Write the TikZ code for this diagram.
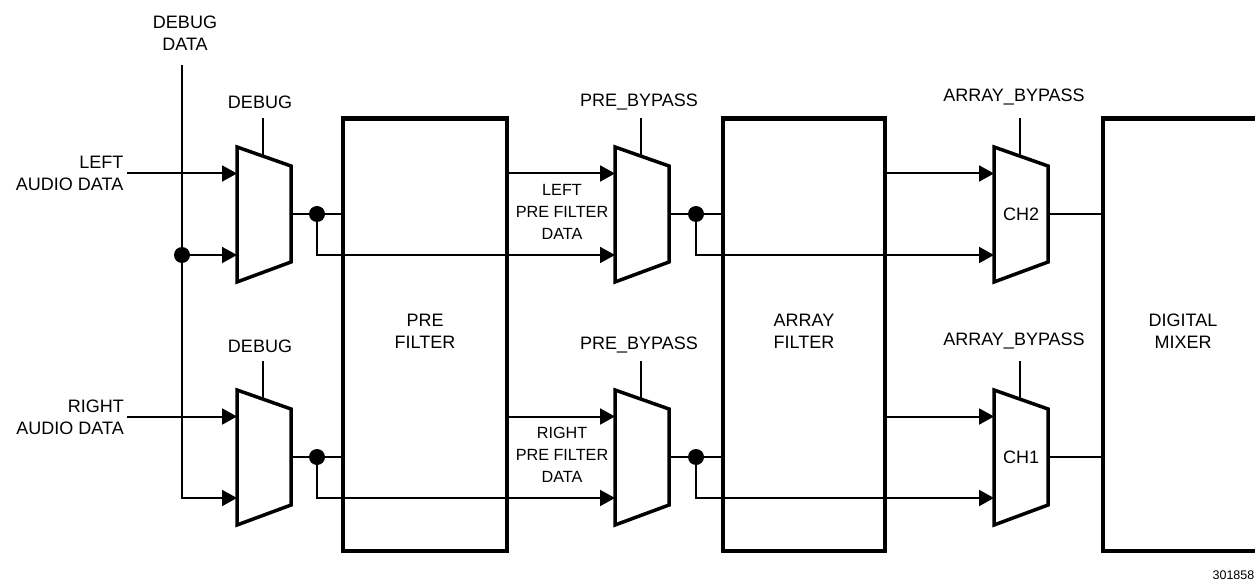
\documentclass[tikz,border=0pt]{standalone}
\usepackage{fontspec}
\setmainfont{Liberation Sans}
\usetikzlibrary{arrows.meta,calc}
\newcommand{\mymux}[4]{%
  \begin{scope}[shift={(#2,#3)}]
    \coordinate (#1-tl) at (0,0);
    \coordinate (#1-tr) at (54,19);
    \coordinate (#1-br) at (54,115);
    \coordinate (#1-bl) at (0,135);
    \coordinate (#1-in1) at (0,26.5);
    \coordinate (#1-in2) at (0,108);
    \coordinate (#1-out) at (54,67);
    \coordinate (#1-sel) at (26,-29);
    \coordinate (#1-selend) at (26,9.2);
    \node[lbl] (#1-lbl) at (27,67) {#4};
  \end{scope}
  \draw[muxshape] (#1-tl) -- (#1-tr) -- (#1-br) -- (#1-bl) -- cycle;
  \draw[wire] (#1-sel) -- (#1-selend);
}
\begin{document}
\begin{tikzpicture}[x=1pt,y=-1pt,
  wire/.style={line width=2pt, line join=miter},
  arr/.style={wire,-{Triangle[length=15pt,width=16pt]}},
  muxshape/.style={line width=3.5pt, line join=miter},
  block/.style={draw, line width=4.5pt, inner sep=0pt, outer sep=0pt},
  lbl/.style={font=\fontsize{18}{22}\selectfont, inner sep=0pt, align=center},
  slbl/.style={font=\fontsize{16.2}{22}\selectfont, inner sep=0pt, align=center},
  dot/.style={circle, fill, inner sep=0pt, minimum size=16pt},
]
\useasboundingbox (0,0) rectangle (1255,580);

% blocks
\node[block, minimum width=164pt, minimum height=432.5pt] (pre) at (425,334.75) {};
\node[block, minimum width=162pt, minimum height=432.5pt] (arrf) at (804,334.75) {};
\draw[line width=4.5pt, line join=miter] (1262,118.5) -- (1103,118.5) -- (1103,551) -- (1262,551);
\coordinate (mix-t) at (1103,214);
\coordinate (mix-b) at (1103,457);

% muxes
\mymux{dbgA}{237}{147}{}
\mymux{dbgB}{237}{390}{}
\mymux{preA}{615}{147}{}
\mymux{preB}{615}{390}{}
\mymux{arrA}{994}{147}{CH2}
\mymux{arrB}{994}{390}{CH1}

% debug data line
\coordinate (dbgtop) at (182,65);
\draw[arr] (dbgtop) |- (dbgB-in2);
\node[dot] (j1) at (dbgtop |- dbgA-in2) {};
\draw[arr] (j1.center) -- (dbgA-in2);

% audio inputs
\path (dbgA-in1) ++(-110,0) coordinate (laIn);
\path (dbgB-in1) ++(-110,0) coordinate (raIn);
\draw[arr] (laIn) -- (dbgA-in1);
\draw[arr] (raIn) -- (dbgB-in1);

% mux chains
\foreach \r/\p in {A/A,B/B}{
  \draw[wire] (dbg\r-out) -- (dbg\r-out -| pre.west);
  \node[dot] (jd\r) at ($(dbg\r-out)+(26,0)$) {};
  \draw[arr] (jd\r.center) |- (pre\p-in2);
  \draw[arr] (pre\p-in1 -| pre.east) -- (pre\p-in1);
  \draw[wire] (pre\p-out) -- (pre\p-out -| arrf.west);
  \node[dot] (jp\p) at ($(pre\p-out)+(27,0)$) {};
  \draw[arr] (jp\p.center) |- (arr\p-in2);
  \draw[arr] (arr\p-in1 -| arrf.east) -- (arr\p-in1);
}
\draw[wire] (arrA-out) -- (mix-t);
\draw[wire] (arrB-out) -- (mix-b);

% labels
\node[lbl] (tDebugData) at (185,33) {DEBUG\\DATA};
\node[lbl, anchor=east, align=right] (tLeft) at (123.5,173) {LEFT\\AUDIO DATA};
\node[lbl, anchor=east, align=right] (tRight) at (124,417) {RIGHT\\AUDIO DATA};
\node[lbl] (tDbgA) at (260,102) {DEBUG};
\node[lbl] (tDbgB) at (260,346) {DEBUG};
\node[lbl] (tPreA) at (639,102) {PRE\_BYPASS};
\node[lbl] (tPreB) at (639,345) {PRE\_BYPASS};
\node[lbl] (tArrA) at (1014,97.5) {ARRAY\_BYPASS};
\node[lbl] (tArrB) at (1014,341) {ARRAY\_BYPASS};
\node[lbl] (tPre) at (425,331) {PRE\\FILTER};
\node[lbl] (tArr) at (804,331) {ARRAY\\FILTER};
\node[lbl] (tMix) at (1183,331) {DIGITAL\\MIXER};
\node[slbl] (tLPF) at (562,212) {LEFT\\PRE FILTER\\DATA};
\node[slbl] (tRPF) at (562,455) {RIGHT\\PRE FILTER\\DATA};
\node[font=\fontsize{12.5}{14}\selectfont, inner sep=0pt, anchor=base east] (tNum) at (1254.5,579.5) {301858};
\end{tikzpicture}
\end{document}
